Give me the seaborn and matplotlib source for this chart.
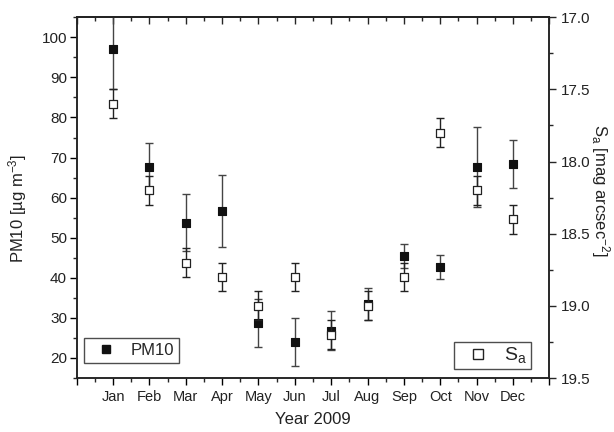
import matplotlib
matplotlib.use('Agg')
import matplotlib.pyplot as plt
from matplotlib.lines import Line2D
import seaborn as sns
import pandas as pd

# data
months = ['Jan', 'Feb', 'Mar', 'Apr', 'May', 'Jun',
          'Jul', 'Aug', 'Sep', 'Oct', 'Nov', 'Dec']
month_pos = [1, 2, 3, 4, 5, 6, 7, 8, 9, 10, 11, 12]
pm10 = [97.0, 67.7, 53.7, 56.7, 28.7, 23.9, 26.8, 33.4, 45.5, 42.7, 67.6, 68.3]
pm10_err = [10.0, 6.0, 7.1, 9.0, 6.0, 6.0, 4.9, 4.0, 3.0, 3.0, 10.0, 6.0]
sa = [17.6, 18.2, 18.7, 18.8, 19.0, 18.8, 19.2, 19.0, 18.8, 17.8, 18.2, 18.4]
sa_err = [0.1, 0.1, 0.1, 0.1, 0.1, 0.1, 0.1, 0.1, 0.1, 0.1, 0.1, 0.1]

df = pd.DataFrame({'month': month_pos, 'pm10': pm10, 'pm10_err': pm10_err,
                   'sa': sa, 'sa_err': sa_err})

sns.set_style('ticks')
plt.rcParams['font.family'] = ['Liberation Sans', 'DejaVu Sans']
plt.rcParams['mathtext.fontset'] = 'custom'
plt.rcParams['mathtext.rm'] = 'Liberation Sans'
plt.rcParams['mathtext.it'] = 'Liberation Sans'
plt.rcParams['axes.linewidth'] = 1.1

fig = plt.figure(figsize=(6.14, 4.32), dpi=100)
ax = fig.add_axes([0.125, 0.125, 0.7696, 0.835])
ax2 = ax.twinx()

# PM10 (left axis)
ax.errorbar(df['month'], df['pm10'], yerr=df['pm10_err'], fmt='none',
            ecolor='#444444', elinewidth=1.0, capsize=3, capthick=1.0, zorder=2)
sns.scatterplot(data=df, x='month', y='pm10', ax=ax, marker='s', s=36,
                color='#111111', edgecolor='#111111', linewidth=0.8, zorder=3,
                legend=False)

# Sa (right axis)
ax2.errorbar(df['month'], df['sa'], yerr=df['sa_err'], fmt='none',
             ecolor='#222222', elinewidth=1.0, capsize=3, capthick=1.0, zorder=2)
sns.scatterplot(data=df, x='month', y='sa', ax=ax2, marker='s', s=36,
                color='white', edgecolor='#222222', linewidth=0.9, zorder=3,
                legend=False)

# axes ranges / ticks
ax.set_xlim(0, 13)
ax.set_ylim(15, 105)
ax2.set_ylim(19.5, 17.0)

ax.set_xticks(list(range(0, 14)))
ax.set_xticklabels([''] + months + [''])
ax.set_xticks([i + 0.5 for i in range(13)], minor=True)
ax.set_yticks([20, 30, 40, 50, 60, 70, 80, 90, 100])
ax.set_yticks([15 + 5 * i for i in range(19)], minor=True)
ax2.set_yticks([17.0, 17.5, 18.0, 18.5, 19.0, 19.5])
ax2.set_yticklabels(['17.0', '17.5', '18.0', '18.5', '19.0', '19.5'])
ax2.set_yticks([17.25, 17.75, 18.25, 18.75, 19.25], minor=True)

ax.tick_params(axis='x', which='major', direction='out', length=5, width=1,
               labelsize=10.5, colors='black', labelcolor='#222222')
ax.tick_params(axis='y', which='major', direction='out', length=5, width=1,
               labelsize=11, pad=2, colors='black', labelcolor='#222222')
ax.tick_params(axis='both', which='minor', direction='out', length=3, width=1)
ax.tick_params(axis='y', right=False)
ax2.tick_params(axis='y', which='major', direction='out', length=5, width=1,
                labelsize=11, pad=3, labelcolor='#222222')
ax2.tick_params(axis='y', which='minor', direction='out', length=3, width=1)

top = ax.secondary_xaxis('top')
top.set_xticks(list(range(0, 14)))
top.set_xticks([i + 0.5 for i in range(13)], minor=True)
top.tick_params(which='major', direction='in', length=5, width=1, labeltop=False)
top.tick_params(which='minor', direction='in', length=3, width=1)

for a in (ax, ax2):
    for sp in a.spines.values():
        sp.set_visible(True)
        sp.set_color('#222222')
        sp.set_linewidth(1.1)

ax.set_xlabel('Year 2009', fontsize=12, color='#222222', labelpad=6)
ax.set_ylabel('PM10 [µg m$^{-3}$]', fontsize=12, color='#222222')
ax.yaxis.set_label_coords(-0.1, 0.47)
ax2.set_ylabel('S$_a$ [mag arcsec$^{-2}$]', fontsize=12, color='#222222',
               rotation=-90)
ax2.yaxis.set_label_coords(1.133, 0.52)

# legends
h1 = Line2D([], [], marker='s', linestyle='none', markersize=6,
            markerfacecolor='#111111', markeredgecolor='#111111')
leg1 = ax.legend([h1], ['PM10'], loc='lower left', bbox_to_anchor=(0.0154, 0.042),
                 frameon=True, fancybox=False, edgecolor='#222222',
                 fontsize=12, handletextpad=0.5, borderpad=0.3,
                 handlelength=2.0, borderaxespad=0)
leg1.get_frame().set_linewidth(1.0)

h2 = Line2D([], [], marker='s', linestyle='none', markersize=6.5,
            markerfacecolor='white', markeredgecolor='#222222')
leg2 = ax2.legend([h2], ['S$_a$'], loc='lower right', bbox_to_anchor=(0.961, 0.024),
                  frameon=True, fancybox=False, edgecolor='#222222',
                  fontsize=14, handletextpad=0.36, borderpad=0.2,
                  handlelength=2.0, borderaxespad=0)
leg2.get_frame().set_linewidth(1.0)

fig.savefig('out.png', dpi=100, facecolor='white')
